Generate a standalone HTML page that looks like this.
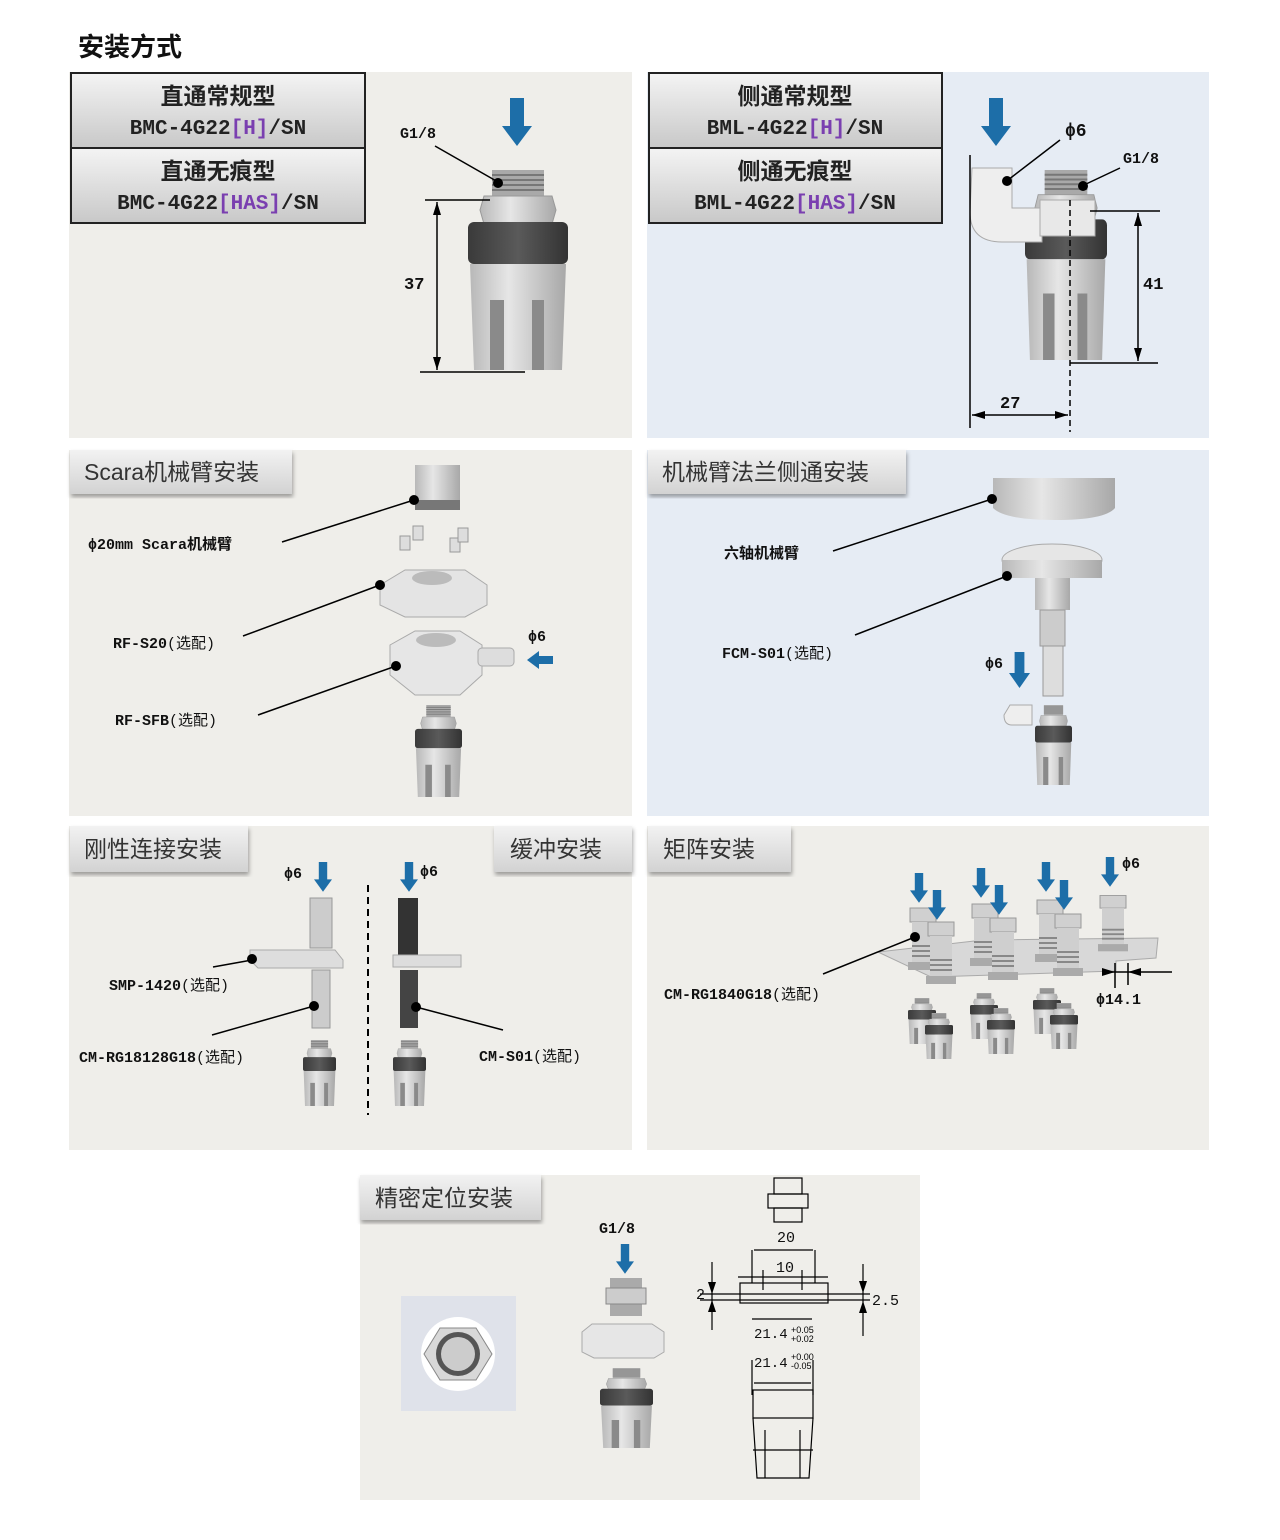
<!DOCTYPE html>
<html><head><meta charset="utf-8"><style>
html,body{margin:0;padding:0;background:#fff;}
svg{display:block}
text{font-family:"Liberation Sans","Noto Sans CJK SC",sans-serif;}
.l{font-size:15px;font-weight:bold;fill:#111;font-family:"Liberation Mono","Noto Sans CJK SC",monospace}
.h{font-size:21px;font-weight:bold;fill:#222;font-family:"Liberation Mono","Noto Sans CJK SC",monospace}
.c{font-size:23px;font-weight:bold;fill:#222;font-family:"Noto Sans CJK SC",sans-serif}
.t{font-size:23px;fill:#333}
</style></head><body>
<svg width="1280" height="1540" viewBox="0 0 1280 1540" xmlns="http://www.w3.org/2000/svg">
<defs>
<linearGradient id="hg" x1="0" y1="0" x2="0" y2="1"><stop offset="0" stop-color="#f4f4f4"/><stop offset="1" stop-color="#c8c8c8"/></linearGradient>
<linearGradient id="tg" x1="0" y1="0" x2="0" y2="1"><stop offset="0" stop-color="#f2f2f2"/><stop offset="1" stop-color="#d2d2d2"/></linearGradient>
<linearGradient id="bd" x1="0" y1="0" x2="1" y2="0"><stop offset="0" stop-color="#b8b8b8"/><stop offset=".4" stop-color="#e6e6e6"/><stop offset="1" stop-color="#a8a8a8"/></linearGradient>
<linearGradient id="dk" x1="0" y1="0" x2="1" y2="0"><stop offset="0" stop-color="#3a3a3a"/><stop offset=".5" stop-color="#5a5a5a"/><stop offset="1" stop-color="#333"/></linearGradient>
<filter id="sh"><feDropShadow dx="1" dy="3" stdDeviation="2" flood-color="#000" flood-opacity=".35"/></filter>
<g id="p">
<rect x="24" y="0" width="52" height="26" fill="#a9a9a9"/>
<path d="M24 5h52M24 10h52M24 15h52M24 20h52" stroke="#777" stroke-width="2"/>
<path d="M16 26h68l4 14-4 14H16l-4-14z" fill="url(#bd)" stroke="#999"/>
<rect x="0" y="52" width="100" height="42" rx="6" fill="url(#dk)"/>
<path d="M2 94h96l-4 106H6z" fill="url(#bd)"/>
<path d="M22 130h14v70H22zM64 130h12v70H64z" fill="#8a8a8a"/>
</g>
<g id="a"><rect x="8" y="0" width="14" height="30" fill="#1d6ea8"/><path d="M0 28h30L15 48z" fill="#1d6ea8"/></g>
<g id="f"><rect x="0" y="0" width="26" height="14" fill="#d0d0d0" stroke="#999"/><rect x="2" y="14" width="22" height="40" fill="#cfcfcf"/><path d="M2 38h22M2 43h22M2 48h22" stroke="#888" stroke-width="2"/><rect x="-2" y="54" width="30" height="8" fill="#aaa"/></g>
</defs>

<text x="78" y="56" style="font-size:26px;font-weight:bold;fill:#111">安装方式</text>

<!-- panel 1 -->
<rect x="69" y="72" width="563" height="366" fill="#efeeea"/>
<rect x="71" y="73" width="294" height="75" fill="url(#hg)" stroke="#222" stroke-width="2"/>
<rect x="71" y="148" width="294" height="75" fill="url(#hg)" stroke="#222" stroke-width="2"/>
<text x="218" y="104" text-anchor="middle" class="c">直通常规型</text>
<text x="218" y="134" text-anchor="middle" class="h">BMC-4G22<tspan fill="#7a3fb0">[H]</tspan>/SN</text>
<text x="218" y="179" text-anchor="middle" class="c">直通无痕型</text>
<text x="218" y="209" text-anchor="middle" class="h">BMC-4G22<tspan fill="#7a3fb0">[HAS]</tspan>/SN</text>
<use href="#a" x="502" y="98"/>
<use href="#p" transform="translate(468,170)"/>
<text x="400" y="138" class="l">G1/8</text>
<line x1="435" y1="146" x2="498" y2="182" stroke="#000" stroke-width="1.5"/><circle cx="498" cy="183" r="5"/>
<line x1="425" y1="200" x2="490" y2="200" stroke="#000" stroke-width="1.5"/>
<line x1="420" y1="372" x2="525" y2="372" stroke="#000" stroke-width="1.5"/>
<line x1="437" y1="202" x2="437" y2="370" stroke="#000" stroke-width="1.5"/>
<path d="M433 215l4-13 4 13zM433 357l4 13 4-13z"/>
<text x="404" y="289" class="l" style="font-size:17px">37</text>

<!-- panel 2 -->
<rect x="647" y="72" width="562" height="366" fill="#e6ecf4"/>
<rect x="649" y="73" width="293" height="75" fill="url(#hg)" stroke="#222" stroke-width="2"/>
<rect x="649" y="148" width="293" height="75" fill="url(#hg)" stroke="#222" stroke-width="2"/>
<text x="795" y="104" text-anchor="middle" class="c">侧通常规型</text>
<text x="795" y="134" text-anchor="middle" class="h">BML-4G22<tspan fill="#7a3fb0">[H]</tspan>/SN</text>
<text x="795" y="179" text-anchor="middle" class="c">侧通无痕型</text>
<text x="795" y="209" text-anchor="middle" class="h">BML-4G22<tspan fill="#7a3fb0">[HAS]</tspan>/SN</text>
<use href="#a" x="981" y="98"/>
<use href="#p" transform="translate(1025,170) scale(0.82,0.95)"/>
<path d="M972 168h40v40h30v34h-40q-32 0-32-30z" fill="#eee" stroke="#aaa"/>
<rect x="1040" y="200" width="55" height="36" fill="#e8e8e8" stroke="#aaa"/>
<text x="1065" y="136" class="l" style="font-size:18px">ϕ6</text>
<line x1="1060" y1="140" x2="1008" y2="180" stroke="#000" stroke-width="1.5"/><circle cx="1007" cy="181" r="5"/>
<text x="1123" y="163" class="l">G1/8</text>
<line x1="1120" y1="168" x2="1084" y2="185" stroke="#000" stroke-width="1.5"/><circle cx="1083" cy="186" r="5"/>
<line x1="1090" y1="211" x2="1160" y2="211" stroke="#000" stroke-width="1.5"/>
<line x1="1070" y1="363" x2="1158" y2="363" stroke="#000" stroke-width="1.5"/>
<line x1="1138" y1="213" x2="1138" y2="361" stroke="#000" stroke-width="1.5"/>
<path d="M1134 226l4-13 4 13zM1134 348l4 13 4-13z"/>
<text x="1143" y="289" class="l" style="font-size:17px">41</text>
<line x1="970" y1="155" x2="970" y2="428" stroke="#000" stroke-width="1.5"/>
<line x1="1070" y1="200" x2="1070" y2="432" stroke="#000" stroke-width="1.5" stroke-dasharray="6,4"/>
<line x1="972" y1="415" x2="1068" y2="415" stroke="#000" stroke-width="1.5"/>
<path d="M985 411l-13 4 13 4zM1055 411l13 4-13 4z"/>
<text x="1000" y="408" class="l" style="font-size:17px">27</text>

<!-- panel 3 -->
<rect x="69" y="450" width="563" height="366" fill="#efeeea"/>
<rect x="70" y="450" width="222" height="44" fill="url(#tg)" filter="url(#sh)"/>
<text x="84" y="480" class="t">Scara机械臂安装</text>
<rect x="415" y="465" width="45" height="45" fill="url(#bd)"/>
<rect x="415" y="500" width="45" height="10" fill="#777"/>
<g fill="#ddd" stroke="#999"><rect x="400" y="536" width="10" height="14"/><rect x="413" y="526" width="10" height="14"/><rect x="450" y="538" width="10" height="14"/><rect x="458" y="528" width="10" height="14"/></g>
<path d="M380 585l25-15h60l22 15v20l-22 12h-60l-25-12z" fill="#e4e4e4" stroke="#aaa"/>
<ellipse cx="432" cy="578" rx="20" ry="7" fill="#bbb"/>
<path d="M390 645l25-14h45l22 14v30l-22 20h-45l-25-20z" fill="#e6e6e6" stroke="#aaa"/>
<ellipse cx="436" cy="640" rx="20" ry="7" fill="#bbb"/>
<rect x="478" y="648" width="36" height="18" rx="4" fill="#ddd" stroke="#aaa"/>
<use href="#p" transform="translate(415,705) scale(0.47,0.46)"/>
<path d="M553 656h-14v-5l-12 9 12 9v-5h14z" fill="#1d6ea8"/>
<text x="528" y="641" class="l">ϕ6</text>
<text x="88" y="549" class="l">ϕ20mm Scara机械臂</text>
<line x1="282" y1="542" x2="414" y2="500" stroke="#000" stroke-width="1.5"/><circle cx="414" cy="500" r="5"/>
<text x="113" y="648" class="l">RF-S20<tspan font-weight="normal">(选配)</tspan></text>
<line x1="243" y1="636" x2="380" y2="585" stroke="#000" stroke-width="1.5"/><circle cx="380" cy="585" r="5"/>
<text x="115" y="725" class="l">RF-SFB<tspan font-weight="normal">(选配)</tspan></text>
<line x1="258" y1="715" x2="396" y2="666" stroke="#000" stroke-width="1.5"/><circle cx="396" cy="666" r="5"/>

<!-- panel 4 -->
<rect x="647" y="450" width="562" height="366" fill="#e6ecf4"/>
<rect x="648" y="450" width="258" height="44" fill="url(#tg)" filter="url(#sh)"/>
<text x="662" y="480" class="t">机械臂法兰侧通安装</text>
<path d="M993 478h122v30q-10 12-60 12t-62-12z" fill="url(#bd)"/>
<ellipse cx="1052" cy="560" rx="50" ry="16" fill="#e6e6e6" stroke="#aaa"/>
<rect x="1002" y="560" width="100" height="18" fill="url(#bd)"/>
<rect x="1035" y="578" width="35" height="32" fill="url(#bd)"/>
<rect x="1040" y="610" width="25" height="36" fill="#ccc" stroke="#999"/>
<rect x="1043" y="646" width="20" height="50" fill="#ddd" stroke="#999"/>
<use href="#p" transform="translate(1035,705) scale(0.37,0.4)"/>
<path d="M1010 705h22v20h-20q-8 0-8-10z" fill="#eee" stroke="#aaa"/>
<use href="#a" transform="translate(1009,652) scale(0.7,0.75)"/>
<text x="985" y="668" class="l">ϕ6</text>
<text x="724" y="558" class="l">六轴机械臂</text>
<line x1="833" y1="551" x2="992" y2="499" stroke="#000" stroke-width="1.5"/><circle cx="992" cy="499" r="5"/>
<text x="722" y="658" class="l">FCM-S01<tspan font-weight="normal">(选配)</tspan></text>
<line x1="855" y1="635" x2="1007" y2="576" stroke="#000" stroke-width="1.5"/><circle cx="1007" cy="576" r="5"/>

<!-- panel 5 -->
<rect x="69" y="826" width="563" height="324" fill="#efeeea"/>
<rect x="70" y="826" width="178" height="46" fill="url(#tg)" filter="url(#sh)"/>
<text x="84" y="857" class="t">刚性连接安装</text>
<rect x="494" y="826" width="138" height="46" fill="url(#tg)" filter="url(#sh)"/>
<text x="510" y="857" class="t">缓冲安装</text>
<line x1="368" y1="885" x2="368" y2="1115" stroke="#000" stroke-width="2" stroke-dasharray="7,5"/>
<use href="#a" transform="translate(314,862) scale(0.6,0.62)"/>
<use href="#a" transform="translate(400,862) scale(0.6,0.62)"/>
<text x="284" y="878" class="l">ϕ6</text>
<text x="420" y="876" class="l">ϕ6</text>
<rect x="310" y="898" width="22" height="50" fill="#ccc" stroke="#999"/>
<path d="M250 950h85l8 10v8h-85l-8-8z" fill="#ddd" stroke="#aaa"/>
<rect x="312" y="970" width="18" height="58" fill="#ccc" stroke="#999"/>
<rect x="398" y="898" width="20" height="62" fill="#333"/>
<path d="M393 955h68v12h-68z" fill="#ddd" stroke="#aaa"/>
<rect x="400" y="970" width="18" height="58" fill="#444"/>
<use href="#p" transform="translate(303,1040) scale(0.33,0.33)"/>
<use href="#p" transform="translate(393,1040) scale(0.33,0.33)"/>
<text x="109" y="990" class="l">SMP-1420<tspan font-weight="normal">(选配)</tspan></text>
<line x1="213" y1="967" x2="252" y2="960" stroke="#000" stroke-width="1.5"/><circle cx="252" cy="959" r="5"/>
<text x="79" y="1062" class="l">CM-RG18128G18<tspan font-weight="normal">(选配)</tspan></text>
<line x1="212" y1="1035" x2="314" y2="1006" stroke="#000" stroke-width="1.5"/><circle cx="314" cy="1006" r="5"/>
<text x="479" y="1061" class="l">CM-S01<tspan font-weight="normal">(选配)</tspan></text>
<line x1="503" y1="1030" x2="416" y2="1007" stroke="#000" stroke-width="1.5"/><circle cx="416" cy="1007" r="5"/>

<!-- panel 6 -->
<rect x="647" y="826" width="562" height="324" fill="#efeeea"/>
<rect x="648" y="826" width="143" height="46" fill="url(#tg)" filter="url(#sh)"/>
<text x="663" y="857" class="t">矩阵安装</text>
<path d="M878 952l105-12 175-2-2 20-40 3v10l-185 6z" fill="#d8d8d8" stroke="#aaa"/>
<use href="#f" x="910" y="908"/><use href="#f" x="928" y="922"/>
<use href="#f" x="972" y="904"/><use href="#f" x="990" y="918"/>
<use href="#f" x="1037" y="900"/><use href="#f" x="1055" y="914"/>
<use href="#f" x="1100" y="895" transform="scale(1,0.9) translate(0,100)"/>
<use href="#a" transform="translate(910,873) scale(0.6,0.62)"/>
<use href="#a" transform="translate(928,890) scale(0.6,0.62)"/>
<use href="#a" transform="translate(972,868) scale(0.6,0.62)"/>
<use href="#a" transform="translate(990,885) scale(0.6,0.62)"/>
<use href="#a" transform="translate(1037,862) scale(0.6,0.62)"/>
<use href="#a" transform="translate(1055,880) scale(0.6,0.62)"/>
<use href="#a" transform="translate(1101,857) scale(0.6,0.62)"/>
<text x="1122" y="868" class="l">ϕ6</text>
<use href="#p" transform="translate(908,998) scale(0.28,0.23)"/><use href="#p" transform="translate(925,1013) scale(0.28,0.23)"/>
<use href="#p" transform="translate(970,993) scale(0.28,0.23)"/><use href="#p" transform="translate(987,1008) scale(0.28,0.23)"/>
<use href="#p" transform="translate(1033,988) scale(0.28,0.23)"/><use href="#p" transform="translate(1050,1003) scale(0.28,0.23)"/>
<line x1="1103" y1="972" x2="1172" y2="972" stroke="#000" stroke-width="1.5"/>
<line x1="1115" y1="963" x2="1115" y2="988" stroke="#000" stroke-width="1.5"/><line x1="1128" y1="963" x2="1128" y2="985" stroke="#000" stroke-width="1.5"/>
<path d="M1102 968l13 4-13 4zM1141 968l-13 4 13 4z"/>
<text x="1096" y="1004" class="l">ϕ14.1</text>
<text x="664" y="999" class="l">CM-RG1840G18<tspan font-weight="normal">(选配)</tspan></text>
<line x1="823" y1="974" x2="915" y2="937" stroke="#000" stroke-width="1.5"/><circle cx="915" cy="937" r="5"/>

<!-- panel 7 -->
<rect x="360" y="1175" width="560" height="325" fill="#efeeea"/>
<rect x="360" y="1175" width="181" height="45" fill="url(#tg)" filter="url(#sh)"/>
<text x="375" y="1206" class="t">精密定位安装</text>
<rect x="401" y="1296" width="115" height="115" fill="#dfe2ea"/>
<circle cx="458" cy="1354" r="37" fill="#fff"/>
<path d="M440 1328h36l16 26-16 26h-36l-16-26z" fill="#d8d8d8" stroke="#888"/>
<circle cx="458" cy="1354" r="22" fill="#555"/><circle cx="458" cy="1354" r="17" fill="#ccc"/>
<text x="599" y="1233" class="l">G1/8</text>
<use href="#a" transform="translate(616,1244) scale(0.6,0.62)"/>
<rect x="610" y="1278" width="32" height="38" fill="#aaa"/>
<rect x="606" y="1288" width="40" height="16" fill="#ccc" stroke="#888"/>
<path d="M582 1332l10-8h60l12 8v20l-10 6h-60l-12-6z" fill="#e6e6e6" stroke="#aaa"/>
<use href="#p" transform="translate(600,1368) scale(0.53,0.4)"/>
<g fill="none" stroke="#000" stroke-width="1.2">
<rect x="774" y="1178" width="28" height="16"/><rect x="768" y="1194" width="40" height="14"/><rect x="774" y="1208" width="28" height="14"/>
<rect x="740" y="1283" width="88" height="20"/>
<line x1="752" y1="1250" x2="752" y2="1283"/><line x1="815" y1="1250" x2="815" y2="1283"/>
<line x1="763" y1="1270" x2="763" y2="1290"/><line x1="802" y1="1270" x2="802" y2="1290"/>
<line x1="754" y1="1250" x2="813" y2="1250"/><line x1="738" y1="1277" x2="828" y2="1277"/>
<line x1="752" y1="1319" x2="812" y2="1319"/>
<line x1="752" y1="1360" x2="752" y2="1395"/><line x1="813" y1="1360" x2="813" y2="1395"/>
<line x1="754" y1="1383" x2="811" y2="1383"/>
<rect x="753" y="1390" width="60" height="28"/>
<path d="M753 1418l4 60h52l4-60M765 1430v48M800 1430v48M753 1450h60"/>
<line x1="700" y1="1294" x2="870" y2="1294"/><line x1="700" y1="1300" x2="870" y2="1300"/>
<line x1="712" y1="1262" x2="712" y2="1330"/><line x1="863" y1="1264" x2="863" y2="1336"/>
</g>
<path d="M708 1282l4 12 4-12zM708 1312l4-12 4 12zM859 1281l4 12 4-12zM859 1313l4-12 4 12z"/>
<text x="777" y="1242" class="l" style="font-weight:normal">20</text>
<text x="776" y="1272" class="l" style="font-weight:normal">10</text>
<text x="696" y="1299" class="l" style="font-weight:normal">2</text>
<text x="872" y="1305" class="l" style="font-weight:normal">2.5</text>
<text x="754" y="1338" class="l" style="font-weight:normal;font-size:14px">21.4</text>
<text x="791" y="1333" style="font-size:9px">+0.05</text><text x="791" y="1342" style="font-size:9px">+0.02</text>
<text x="754" y="1367" class="l" style="font-weight:normal;font-size:14px">21.4</text>
<text x="791" y="1360" style="font-size:9px">+0.00</text><text x="791" y="1369" style="font-size:9px">-0.05</text>
</svg>
</body></html>
